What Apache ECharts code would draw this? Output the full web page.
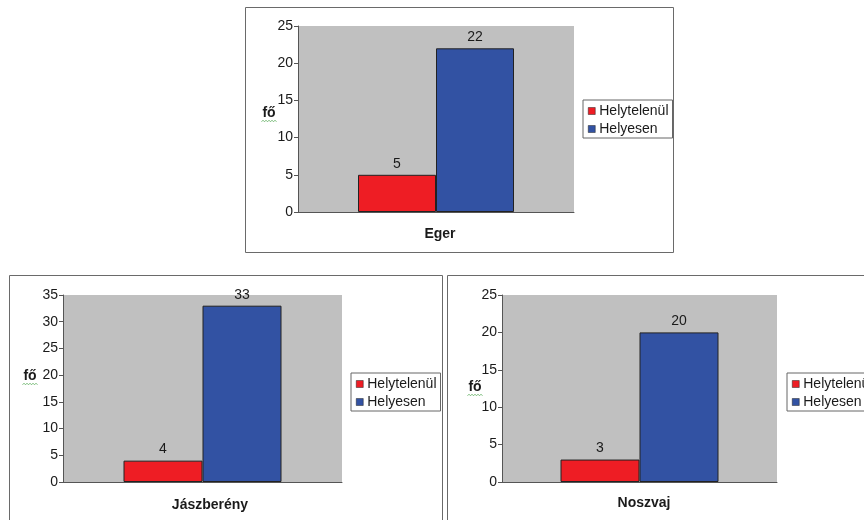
<!DOCTYPE html>
<html>
<head>
<meta charset="utf-8">
<script src="https://cdn.jsdelivr.net/npm/echarts@6/dist/echarts.min.js"></script>
<style>
  html, body { margin: 0; padding: 0; background: #ffffff; }
  #chart { width: 864px; height: 520px; }
</style>
</head>
<body>
<div id="chart"></div>
<script>
// Survey answers per town: number of people (fő) answering wrongly / correctly
const cities = ['Eger', 'Jászberény', 'Noszvaj'];
const seriesNames = ['Helytelenül', 'Helyesen'];
const wrongCounts = [5, 4, 3];
const rightCounts = [22, 33, 20];
const axisMax = [25, 35, 25];
const axisStep = 5;
const axisTitle = 'fő';

// Panel geometry (pixels)
const panels = [
  { frame: [245, 7, 428, 245], grid: [298, 26, 276, 186], legend: [583, 100], bar: 78,
    title: [269, 113], labelPad: [0, 0, 0, 8], labelMargin: 15 },
  { frame: [9, 275, 433, 260], grid: [63, 295, 279, 187], legend: [351, 373], bar: 79,
    title: [30, 376], labelPad: [0, 0, 0, 15], labelMargin: 16 },
  { frame: [447, 275, 430, 260], grid: [502, 295, 275, 187], legend: [787, 373], bar: 79,
    title: [475, 387], labelPad: [0, 0, 0, 9], labelMargin: 14 }
];

const RED = '#EE1D24';
const BLUE = '#3252A3';
const FONT = "'Liberation Sans', Arial, sans-serif";
const TEXT = '#1a1a1a';

// small wavy proofing underline below the axis title
function squiggle(cx, cy) {
  const pts = [];
  for (let x = -8, k = 0; x <= 8; x += 1.5, k++) {
    pts.push([cx + x, cy + (k % 2 ? -0.8 : 0.8)]);
  }
  return pts;
}

const grids = [], xAxes = [], yAxes = [], series = [], legends = [], graphics = [];

panels.forEach((p, i) => {
  // outer frame of each small chart
  graphics.push({
    type: 'rect', silent: true, z: -10,
    shape: { x: p.frame[0] + 0.5, y: p.frame[1] + 0.5, width: p.frame[2], height: p.frame[3] },
    style: { fill: '#ffffff', stroke: '#6a6a6a', lineWidth: 1 }
  });
  // value-axis title
  graphics.push({
    type: 'text', silent: true, x: p.title[0], y: p.title[1],
    style: { text: axisTitle, fontFamily: FONT, fontSize: 14, fontWeight: 'bold',
             fill: TEXT, align: 'center', verticalAlign: 'middle' }
  });
  graphics.push({
    type: 'polyline', silent: true,
    shape: { points: squiggle(p.title[0] + 0.5, p.title[1] + 8) },
    style: { stroke: '#5fae5f', lineWidth: 0.8, fill: null }
  });

  grids.push({
    left: p.grid[0], top: p.grid[1], width: p.grid[2], height: p.grid[3],
    show: true, backgroundColor: '#C0C0C0', borderWidth: 0, containLabel: false
  });

  xAxes.push({
    type: 'category', gridIndex: i, data: [cities[i]],
    axisLine: { show: true, lineStyle: { color: '#555', width: 1 } },
    axisTick: { show: false },
    axisLabel: {
      margin: p.labelMargin, padding: p.labelPad,
      fontFamily: FONT, fontSize: 14, fontWeight: 'bold', color: TEXT
    }
  });

  yAxes.push({
    type: 'value', gridIndex: i, min: 0, max: axisMax[i], interval: axisStep,
    axisLine: { show: true, lineStyle: { color: '#555', width: 1 } },
    axisTick: { show: true, length: 4, lineStyle: { color: '#555' } },
    axisLabel: { margin: 5, fontFamily: FONT, fontSize: 14, color: TEXT },
    splitLine: { show: false }
  });

  [wrongCounts, rightCounts].forEach((vals, k) => {
    series.push({
      type: 'bar', name: seriesNames[k], xAxisIndex: i, yAxisIndex: i,
      data: [vals[i]], barWidth: p.bar, barGap: '0%',
      itemStyle: { color: k === 0 ? RED : BLUE, borderColor: '#222', borderWidth: 1 },
      label: { show: true, position: 'top', distance: 4,
               fontFamily: FONT, fontSize: 14, color: TEXT },
      emphasis: { disabled: true },
      animation: false
    });
  });

  legends.push({
    data: seriesNames, orient: 'vertical', left: p.legend[0], top: p.legend[1],
    icon: 'rect', itemWidth: 7, itemHeight: 7, itemGap: 4,
    padding: [4, 4, 2, 5], backgroundColor: '#ffffff',
    borderColor: '#666', borderWidth: 1, selectedMode: false,
    textStyle: { fontFamily: FONT, fontSize: 14, color: TEXT, padding: [0, 0, 0, -1] },
    itemStyle: { borderColor: '#222', borderWidth: 0.5 }
  });
});

const chart = echarts.init(document.getElementById('chart'), null, { renderer: 'canvas' });
chart.setOption({
  animation: false,
  backgroundColor: '#ffffff',
  grid: grids, xAxis: xAxes, yAxis: yAxes, series: series, legend: legends,
  graphic: graphics
});
</script>
</body>
</html>
